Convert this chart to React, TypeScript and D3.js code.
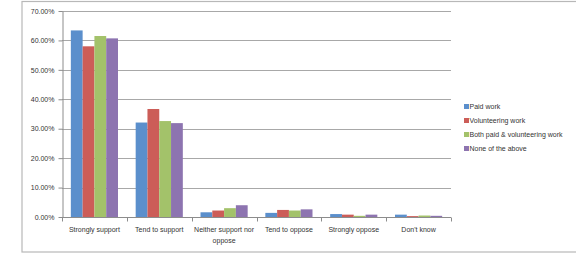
import React, { useEffect, useRef } from "react";
import * as d3 from "d3";

const categories = [
  "Strongly support",
  "Tend to support",
  "Neither support nor oppose",
  "Tend to oppose",
  "Strongly oppose",
  "Don't know",
];

const seriesNames = [
  "Paid work",
  "Volunteering work",
  "Both paid & volunteering work",
  "None of the above",
];

const paidWork = [0.634, 0.321, 0.016, 0.014, 0.01, 0.008];
const volunteeringWork = [0.58, 0.367, 0.022, 0.024, 0.008, 0.003];
const bothWork = [0.615, 0.326, 0.03, 0.022, 0.004, 0.005];
const noneOfAbove = [0.607, 0.319, 0.04, 0.026, 0.008, 0.004];

const yTicks = [0, 0.1, 0.2, 0.3, 0.4, 0.5, 0.6, 0.7];

const colors = ["#5B8FCC", "#CC5D58", "#A3C26A", "#8D74B0"];

const App = () => {
  const ref = useRef<SVGSVGElement>(null);

  useEffect(() => {
    const W = 576;
    const H = 253;
    const margin = { top: 11, left: 62, right: 125, bottom: 36 };
    const font = "'Liberation Sans', Arial, sans-serif";

    const svg = d3.select(ref.current);
    svg.selectAll("*").remove();

    const values = [paidWork, volunteeringWork, bothWork, noneOfAbove];

    // chart border
    svg
      .append("rect")
      .attr("x", 22)
      .attr("y", 1.5)
      .attr("width", W)
      .attr("height", 250.5)
      .attr("fill", "#fff")
      .attr("stroke", "#b8b8b8")
      .attr("stroke-width", 1.2);

    const x0 = d3
      .scaleBand()
      .domain(categories)
      .range([margin.left, W - margin.right])
      .padding(0);

    const x1 = d3
      .scaleBand()
      .domain(seriesNames)
      .range([0, x0.bandwidth()])
      .paddingInner(0)
      .paddingOuter(0.75);

    const y = d3
      .scaleLinear()
      .domain([0, 0.7])
      .range([H - margin.bottom, margin.top]);

    const fmt = d3.format(".2%");

    // gridlines
    svg
      .append("g")
      .selectAll("line")
      .data(yTicks.slice(1))
      .join("line")
      .attr("x1", margin.left)
      .attr("x2", W - margin.right)
      .attr("y1", (d) => Math.round(y(d)) + 0.5)
      .attr("y2", (d) => Math.round(y(d)) + 0.5)
      .attr("stroke", "#a8a8a8")
      .attr("stroke-width", 1);

    // y axis
    const yAxis = svg
      .append("g")
      .attr("transform", `translate(${margin.left + 0.5},0)`)
      .call(
        d3
          .axisLeft(y)
          .tickValues(yTicks)
          .tickFormat((d) => fmt(d as number))
          .tickSize(4)
          .tickSizeOuter(0)
      );
    yAxis.select(".domain").attr("stroke", "#8c8c8c");
    yAxis.selectAll(".tick line").attr("stroke", "#8c8c8c");
    yAxis
      .selectAll("text")
      .attr("font-family", font)
      .attr("font-size", 7)
      .attr("fill", "#333")
      .attr("x", -8);

    // bars
    const groups = svg
      .append("g")
      .selectAll("g")
      .data(categories)
      .join("g")
      .attr("transform", (c) => `translate(${x0(c)},0)`);

    groups
      .selectAll("rect")
      .data((c, ci) => seriesNames.map((s, si) => ({ s, si, v: values[si][ci] })))
      .join("rect")
      .attr("x", (d) => x1(d.s)!)
      .attr("width", x1.bandwidth())
      .attr("y", (d) => y(d.v))
      .attr("height", (d) => y(0) - y(d.v))
      .attr("fill", (d) => colors[d.si]);

    // x axis
    const xAxisY = Math.round(y(0)) + 0.5;
    svg
      .append("line")
      .attr("x1", margin.left)
      .attr("x2", W - margin.right)
      .attr("y1", xAxisY)
      .attr("y2", xAxisY)
      .attr("stroke", "#8c8c8c");

    const boundaries = categories.map((c) => x0(c)!).concat([W - margin.right]);
    svg
      .append("g")
      .selectAll("line")
      .data(boundaries)
      .join("line")
      .attr("x1", (d) => Math.round(d) + 0.5)
      .attr("x2", (d) => Math.round(d) + 0.5)
      .attr("y1", xAxisY)
      .attr("y2", xAxisY + 4)
      .attr("stroke", "#8c8c8c");

    const labels = svg
      .append("g")
      .selectAll("text")
      .data(categories)
      .join("text")
      .attr("x", (c) => x0(c)! + x0.bandwidth() / 2)
      .attr("y", 232)
      .attr("text-anchor", "middle")
      .attr("font-family", font)
      .attr("font-size", 7)
      .attr("fill", "#333")
      .text((c) => c);

    // wrap long labels
    const maxW = x0.bandwidth() - 2;
    labels.each(function (c) {
      const t = d3.select(this);
      if ((this as SVGTextElement).getComputedTextLength() <= maxW) return;
      const words = c.split(" ");
      t.text(null);
      let line: string[] = [];
      let lineNo = 0;
      let tspan = t.append("tspan").attr("x", t.attr("x")).attr("dy", 0);
      for (const w of words) {
        line.push(w);
        tspan.text(line.join(" "));
        if ((tspan.node() as SVGTSpanElement).getComputedTextLength() > maxW && line.length > 1) {
          line.pop();
          tspan.text(line.join(" "));
          line = [w];
          lineNo++;
          tspan = t.append("tspan").attr("x", t.attr("x")).attr("dy", 10.5).text(w);
        }
      }
    });

    // legend
    const legend = svg
      .append("g")
      .selectAll("g")
      .data(seriesNames)
      .join("g")
      .attr("transform", (_, i) => `translate(464,${106.5 + i * 14})`);

    legend
      .append("rect")
      .attr("x", 0)
      .attr("y", -2.5)
      .attr("width", 5)
      .attr("height", 5)
      .attr("fill", (_, i) => colors[i]);

    legend
      .append("text")
      .attr("x", 5.5)
      .attr("y", 2.5)
      .attr("font-family", font)
      .attr("font-size", 7)
      .attr("fill", "#333")
      .text((d) => d);
  }, []);

  return (
    <svg
      ref={ref}
      width={576}
      height={253}
      style={{ position: "absolute", left: 0, top: 0, display: "block", background: "#fff" }}
    />
  );
};

export default App;
